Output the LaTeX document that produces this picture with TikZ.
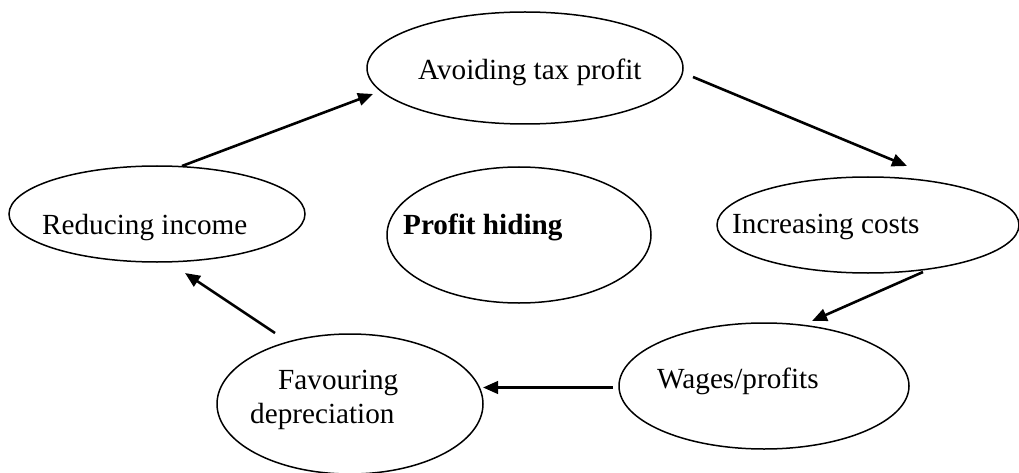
\documentclass[tikz,border=0pt]{standalone}
\usepackage{fontspec}
\setmainfont{Liberation Serif}
\usetikzlibrary{shapes.geometric,arrows.meta}
\begin{document}
\begin{tikzpicture}[x=1pt,y=-1pt,
  oval/.style={draw,ellipse,line width=1.5pt,inner sep=0pt},
  lbl/.style={anchor=base west,inner sep=0pt,font=\fontsize{29.2}{34}\selectfont},
  arr/.style={line width=2.6pt,-{Triangle[length=15pt,width=12.5pt]}}]
\useasboundingbox (0,0) rectangle (1019,473);
% ellipses
\node[oval,minimum width=316pt,minimum height=112pt] (avoid) at (525,68) {};
\node[oval,minimum width=296pt,minimum height=96pt] (reduce) at (157,214) {};
\node[oval,minimum width=264pt,minimum height=136pt] (hide) at (519,235) {};
\node[oval,minimum width=302pt,minimum height=96pt] (incr) at (868,225) {};
\node[oval,minimum width=290pt,minimum height=126pt] (wages) at (764,386) {};
\node[oval,minimum width=266pt,minimum height=140pt] (favour) at (350,404) {};
% labels
\node[lbl] (tavoid) at (418,80) {Avoiding tax profit};
\node[lbl] (treduce) at (42,234) {Reducing income};
\node[lbl] (thide) at (403,234) {\textbf{Profit hiding}};
\node[lbl] (tincr) at (732,233) {Increasing costs};
\node[lbl] (twages) at (657,388) {Wages/profits};
\node[lbl] (tfav1) at (278,389) {Favouring};
\node[lbl] (tfav2) at (250,423) {depreciation};
% connector end points
\coordinate (r2a) at (182,166);
\coordinate (a2r) at (373,94);
\coordinate (a2i) at (693,77);
\coordinate (i2a) at (907,166);
\coordinate (i2w) at (923,272);
\coordinate (w2i) at (812,321);
\coordinate (w2f) at (613,387.5);
\coordinate (f2w) at (483,387.5);
\coordinate (f2r) at (275,333);
\coordinate (r2f) at (185,273);
% connectors
\draw[arr] (r2a) -- (a2r);
\draw[arr] (a2i) -- (i2a);
\draw[arr] (i2w) -- (w2i);
\draw[arr] (w2f) -- (f2w);
\draw[arr] (f2r) -- (r2f);
\end{tikzpicture}
\end{document}
